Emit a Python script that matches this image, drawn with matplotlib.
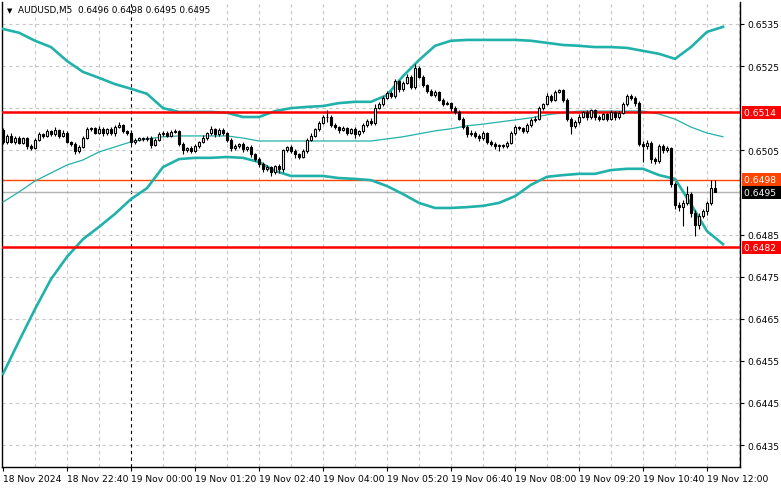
import numpy as np
import matplotlib.pyplot as plt
from matplotlib.transforms import blended_transform_factory

# ---- data (AUDUSD M5) ----
first_open = 0.65098
closes = [
    0.65070, 0.65085, 0.65070, 0.65080, 0.65068, 0.65078, 0.65060, 0.65055, 0.65075, 0.65088,
    0.65085, 0.65095, 0.65088, 0.65098, 0.65085, 0.65092, 0.65070, 0.65065, 0.65048, 0.65058,
    0.65080, 0.65100, 0.65102, 0.65092, 0.65101, 0.65090, 0.65100, 0.65090, 0.65106, 0.65110,
    0.65095, 0.65092, 0.65070, 0.65074, 0.65078, 0.65076, 0.65080, 0.65062, 0.65075, 0.65088,
    0.65092, 0.65085, 0.65094, 0.65096, 0.65065, 0.65050, 0.65055, 0.65048, 0.65060, 0.65070,
    0.65080, 0.65090, 0.65100, 0.65088, 0.65098, 0.65090, 0.65075, 0.65055, 0.65060, 0.65065,
    0.65052, 0.65058, 0.65040, 0.65030, 0.65018, 0.65005, 0.65010, 0.64998, 0.65012, 0.65005,
    0.65050, 0.65058, 0.65048, 0.65040, 0.65035, 0.65048, 0.65075, 0.65085, 0.65100, 0.65115,
    0.65128, 0.65130, 0.65110, 0.65105, 0.65098, 0.65102, 0.65092, 0.65100, 0.65088, 0.65095,
    0.65110, 0.65120, 0.65115, 0.65150, 0.65160, 0.65175, 0.65185, 0.65178, 0.65215, 0.65195,
    0.65210, 0.65225, 0.65200, 0.65245, 0.65225, 0.65205, 0.65190, 0.65182, 0.65188, 0.65170,
    0.65160, 0.65162, 0.65150, 0.65142, 0.65125, 0.65105, 0.65088, 0.65092, 0.65085, 0.65078,
    0.65090, 0.65070, 0.65065, 0.65060, 0.65062, 0.65060, 0.65068, 0.65090, 0.65105, 0.65102,
    0.65095, 0.65110, 0.65122, 0.65125, 0.65150, 0.65160, 0.65180, 0.65170, 0.65188, 0.65192,
    0.65170, 0.65125, 0.65108, 0.65118, 0.65130, 0.65140, 0.65128, 0.65145, 0.65128, 0.65125,
    0.65135, 0.65125, 0.65140, 0.65128, 0.65138, 0.65160, 0.65178, 0.65175, 0.65162, 0.65065,
    0.65060, 0.65068, 0.65030, 0.65025, 0.65060, 0.65050, 0.65055, 0.64970, 0.64920, 0.64915,
    0.64925, 0.64945, 0.64900, 0.64872, 0.64895, 0.64905, 0.64925, 0.64960, 0.64950,
]
# wick lengths in pipettes (0.00001)
wick_up = [
    4, 3, 6, 3, 5, 4, 3, 6, 4, 5, 3, 6, 4, 8, 3, 5, 4, 3, 5, 4,
    3, 5, 4, 3, 6, 4, 3, 5, 4, 6, 3, 4, 5, 4, 3, 4, 3, 4, 3, 5,
    4, 3, 5, 4, 3, 4, 3, 5, 4, 3, 6, 4, 8, 3, 5, 4, 3, 4, 5, 3,
    4, 3, 5, 4, 3, 4, 5, 3, 4, 6, 4, 3, 5, 4, 3, 5, 4, 6, 4, 5,
    6, 15, 4, 5, 3, 6, 4, 3, 5, 4, 5, 4, 6, 10, 5, 4, 6, 5, 4, 3,
    5, 6, 4, 10, 5, 4, 3, 5, 4, 3, 5, 4, 3, 6, 4, 3, 4, 5, 3, 4,
    5, 3, 4, 5, 4, 3, 4, 5, 4, 3, 4, 5, 4, 6, 4, 3, 5, 4, 6, 4,
    3, 5, 4, 3, 5, 4, 6, 4, 3, 5, 4, 3, 5, 4, 6, 4, 5, 6, 3, 4,
    8, 6, 5, 4, 6, 5, 4, 3, 5, 6, 8, 20, 6, 8, 5, 6, 5, 20, 20,
]
wick_dn = [
    4, 5, 3, 6, 4, 3, 8, 5, 3, 4, 5, 3, 4, 3, 6, 4, 3, 5, 6, 4,
    3, 4, 5, 3, 4, 6, 3, 4, 5, 3, 4, 6, 5, 4, 3, 5, 4, 6, 3, 4,
    5, 4, 3, 4, 5, 9, 4, 5, 3, 4, 3, 5, 4, 6, 3, 4, 5, 6, 4, 5,
    6, 4, 5, 6, 8, 7, 5, 10, 4, 8, 6, 4, 5, 8, 6, 4, 5, 3, 4, 5,
    3, 10, 5, 4, 6, 3, 5, 4, 8, 4, 3, 5, 4, 6, 3, 5, 4, 5, 3, 6,
    4, 3, 5, 4, 3, 5, 4, 3, 5, 4, 5, 3, 6, 5, 4, 5, 6, 4, 5, 6,
    4, 5, 6, 8, 12, 5, 4, 3, 4, 5, 4, 3, 4, 5, 3, 4, 3, 5, 4, 3,
    5, 6, 20, 4, 5, 3, 6, 4, 5, 6, 4, 5, 3, 6, 4, 3, 4, 5, 6, 4,
    38, 6, 10, 8, 5, 6, 4, 8, 10, 9, 45, 6, 8, 26, 10, 6, 8, 4, 0,
]

# Bollinger bands sampled every 4 bars (bars 0..180)
band_bars = list(range(0, 181, 4))
band_upper = [
    0.65338, 0.65329, 0.65310, 0.65295, 0.65262, 0.65236, 0.65222, 0.65207, 0.65196, 0.65184,
    0.65150, 0.65141, 0.65141, 0.65141, 0.65139, 0.65129, 0.65129, 0.65143, 0.65150, 0.65153,
    0.65155, 0.65162, 0.65165, 0.65165, 0.65181, 0.65226, 0.65264, 0.65298, 0.65310, 0.65312,
    0.65312, 0.65312, 0.65312, 0.65310, 0.65305, 0.65300, 0.65298, 0.65295, 0.65295, 0.65293,
    0.65286, 0.65279, 0.65267, 0.65295, 0.65331, 0.65343,
]
band_mid = [
    0.64927, 0.64951, 0.64977, 0.64996, 0.65015, 0.65027, 0.65046, 0.65058, 0.65070, 0.65077,
    0.65082, 0.65084, 0.65084, 0.65084, 0.65084, 0.65079, 0.65072, 0.65072, 0.65072, 0.65072,
    0.65072, 0.65072, 0.65072, 0.65072, 0.65077, 0.65082, 0.65089, 0.65096, 0.65101, 0.65108,
    0.65112, 0.65117, 0.65122, 0.65127, 0.65134, 0.65139, 0.65143, 0.65143, 0.65143, 0.65143,
    0.65143, 0.65136, 0.65124, 0.65105, 0.65091, 0.65082,
]
band_lower = [
    0.64519, 0.64597, 0.64673, 0.64744, 0.64797, 0.64839, 0.64868, 0.64899, 0.64934, 0.64960,
    0.65010, 0.65029, 0.65032, 0.65032, 0.65034, 0.65032, 0.65022, 0.65001, 0.64989, 0.64989,
    0.64989, 0.64984, 0.64982, 0.64979, 0.64965, 0.64946, 0.64925, 0.64913, 0.64913, 0.64915,
    0.64918, 0.64925, 0.64941, 0.64968, 0.64987, 0.64991, 0.64994, 0.64994, 0.65003, 0.65006,
    0.65006, 0.64991, 0.64982, 0.64922, 0.64858, 0.64827,
]

time_labels = ['18 Nov 2024', '18 Nov 22:40', '19 Nov 00:00', '19 Nov 01:20', '19 Nov 02:40',
               '19 Nov 04:00', '19 Nov 05:20', '19 Nov 06:40', '19 Nov 08:00', '19 Nov 09:20',
               '19 Nov 10:40', '19 Nov 12:00']
price_ticks = [0.6435, 0.6445, 0.6455, 0.6465, 0.6475, 0.6485, 0.6505, 0.6525, 0.6535]
level_red = [0.6514, 0.6482]
level_ask = 0.6498
level_bid = 0.6495

# ---- build candles ----
closes = np.array(closes)
opens = np.concatenate([[first_open], closes[:-1]])
opens[-1] = 0.6496
idx = np.arange(len(closes))
highs = np.maximum(opens, closes) + np.array(wick_up) * 1e-5
lows = np.minimum(opens, closes) - np.array(wick_dn) * 1e-5

plt.rcParams['font.family'] = 'DejaVu Sans'
fig = plt.figure(figsize=(7.81, 4.89), dpi=100)
ax = fig.add_axes([2 / 781, 1 - 468 / 489, 738 / 781, 465 / 489])

ax.set_xlim(-0.25, 184.25)
ax.set_ylim(0.64298, 0.65402)

# grid
for v in range(8, 185, 8):
    if v != 32:
        ax.axvline(v, color='#c8c8c8', lw=0.8, ls=(0, (3, 3)), zorder=0)
for p in np.arange(0.6435, 0.6536, 0.001):
    ax.axhline(p, color='#c8c8c8', lw=0.8, ls=(0, (3, 3)), zorder=0)
ax.axvline(32, color='black', lw=0.8, ls=(0, (3, 3)), zorder=1)

# bid/ask and levels
ax.axhline(level_bid, color='#b4b4b4', lw=1.0, zorder=1)
ax.axhline(level_ask, color='#ff4500', lw=1.0, zorder=1)
for lv in level_red:
    ax.axhline(lv, color='#ff0000', lw=1.8, zorder=4)

# bollinger bands
teal = '#20b2aa'
ax.plot(band_bars, band_upper, color=teal, lw=1.9, zorder=3, solid_joinstyle='round')
ax.plot(band_bars, band_lower, color=teal, lw=1.9, zorder=3, solid_joinstyle='round')
ax.plot(band_bars, band_mid, color=teal, lw=0.9, zorder=3)

# candles
ax.vlines(idx, lows, highs, color='black', lw=0.8, zorder=5)
up = closes >= opens
body_h = np.abs(closes - opens)
body_h = np.where(body_h < 1.2e-5, 1.2e-5, body_h)
ax.bar(idx[up], body_h[up], bottom=np.minimum(opens, closes)[up], width=0.7,
       color='white', edgecolor='black', linewidth=0.8, zorder=6)
ax.bar(idx[~up], body_h[~up], bottom=np.minimum(opens, closes)[~up], width=0.7,
       color='black', edgecolor='black', linewidth=0.8, zorder=6)

# axes styling
ax.spines['top'].set_visible(False)
for s in ['left', 'right', 'bottom']:
    ax.spines[s].set_color('black')
    ax.spines[s].set_linewidth(1.0)

ax.set_xticks(range(0, 177, 16))
ax.set_xticklabels(time_labels, fontsize=6.6)
for lab in ax.get_xticklabels():
    lab.set_horizontalalignment('left')
ax.tick_params(axis='x', direction='out', length=3, width=0.8, pad=2)

ax.yaxis.tick_right()
ax.set_yticks(price_ticks)
ax.set_yticklabels(['%.4f' % p for p in price_ticks], fontsize=6.6)
ax.tick_params(axis='y', direction='out', length=3, width=0.8, pad=2)

# price boxes on the right scale
tr = blended_transform_factory(ax.transAxes, ax.transData)
boxes = [(level_red[0], '#ff0000', 'white'), (level_ask, '#ff4500', 'white'),
         (level_bid, 'black', 'white'), (level_red[1], '#ff0000', 'white')]
for val, fc, tc in boxes:
    ax.text(1.0055, val, '%.4f ' % val, transform=tr, fontsize=6.6, color=tc,
            va='center', ha='left',
            bbox=dict(boxstyle='square,pad=0.22', fc=fc, ec='none'), clip_on=False)

# header
fig.text(7 / 781, 1 - 11 / 489, '\u25bc', fontsize=5, va='center', ha='left')
fig.text(18 / 781, 1 - 11 / 489, 'AUDUSD,M5  0.6496 0.6498 0.6495 0.6495',
         fontsize=6.4, va='center', ha='left')

fig.savefig('out.png', dpi=100, facecolor='white')
